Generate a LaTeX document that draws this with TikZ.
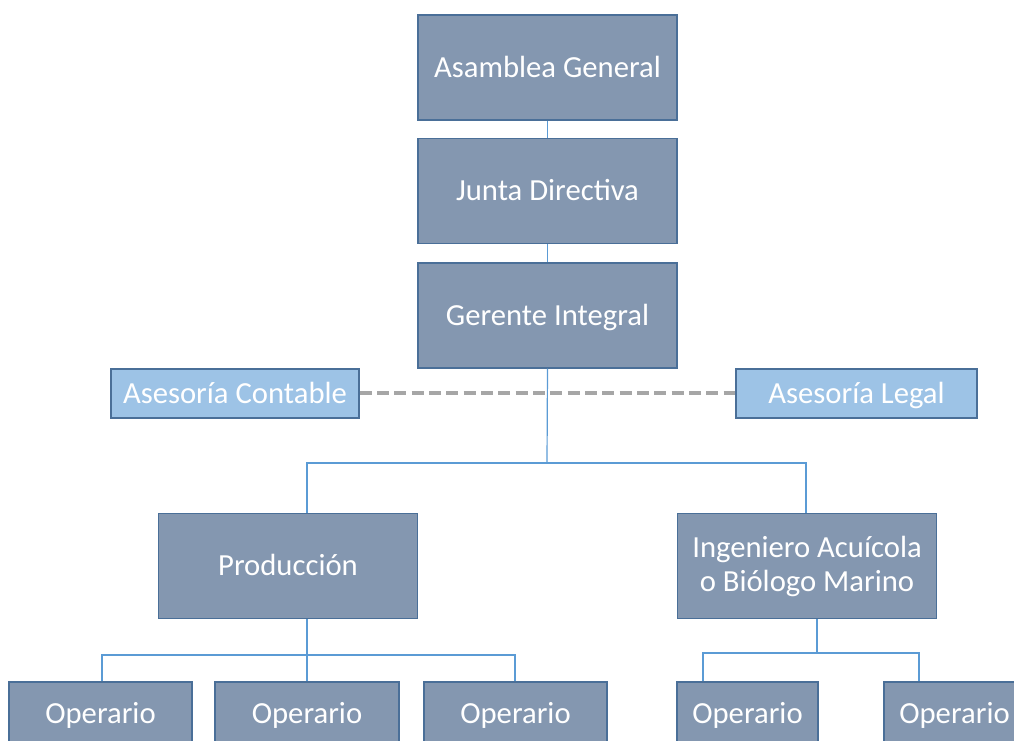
\documentclass[tikz,border=0pt]{standalone}
\usepackage{fontspec}
\setmainfont{Carlito}
\usepackage{tikz}

\definecolor{cargofill}{HTML}{8497B0}
\definecolor{cargoline}{HTML}{4A6F98}
\definecolor{asesorfill}{HTML}{9DC3E6}
\definecolor{enlace}{HTML}{5B9BD5}
\definecolor{punteo}{HTML}{A6A6A6}

\tikzset{
  cargo/.style={draw=cargoline, fill=cargofill, line width=1.1pt, text=white,
    inner sep=0pt, align=center, font=\fontsize{23}{25.5}\selectfont},
  grande/.style={cargo, minimum width=194.25pt, minimum height=78.75pt},
  unalinea/.style={text height=16pt, text depth=1.2pt},
  asesor/.style={cargo, unalinea, fill=asesorfill, minimum height=36.75pt},
  operario/.style={cargo, unalinea, minimum width=137.25pt, minimum height=48pt},
  linea/.style={draw=enlace, line width=0.9pt}
}

\begin{document}
\begin{tikzpicture}[x=0.75pt, y=-0.75pt]
			% frame of the picture
			\useasboundingbox (0,0) rectangle (1014,741);
			\clip (0,0) rectangle (1014,741);

			% top of the chart
			\node[grande, unalinea] (asamblea) at (547.5,67.5) {Asamblea General};
			\node[grande, unalinea] (junta) at (547.5,191) {Junta Directiva};
			\node[grande, unalinea] (gerente) at (547.5,315.5) {Gerente Integral};
			\draw[linea] (asamblea.south) -- (junta.north);
			\draw[linea] (junta.south) -- (gerente.north);

			% the two advisers
			\node[asesor, minimum width=186pt] (contable) at (235,393.5) {Asesoría Contable};
			\node[asesor, minimum width=180.75pt] (legal) at (856.5,393.5) {Asesoría Legal};

			% second level
			\node[grande, unalinea] (produccion) at (288,566) {Producción};
			\node[grande] (ingeniero) at (807,566) {Ingeniero Acuícola\\o Biólogo Marino};

			% branch points
			\coordinate (g) at (547,463);
			\coordinate (gl) at (307,463);
			\coordinate (gr) at (806,463);
			\draw[linea] (gerente.south) -- (g);
			\draw[linea] (gl |- produccion.north) -- (gl) -- (gr) -- (gr |- ingeniero.north);

			% dashed link to the advisers
			\draw[punteo, line width=3pt, dash pattern=on 9pt off 4pt] (contable.east) -- (legal.west);

			% operarios
			\node[operario] (op1) at (100.5,714) {Operario};
			\node[operario, minimum width=138pt] (op2) at (307,714) {Operario};
			\node[operario] (op3) at (515.5,714) {Operario};
			\node[operario, minimum width=105.75pt] (op4) at (747.5,714) {Operario};
			\node[operario, minimum width=105.75pt] (op5) at (954.5,714) {Operario};

			% lines under Produccion
			\coordinate (p) at (307,655);
			\coordinate (pl) at (102,655);
			\coordinate (pr) at (515,655);
			\draw[linea] (p |- produccion.south) -- (op2.north);
			\draw[linea] (pl |- op1.north) -- (pl) -- (pr) -- (pr |- op3.north);

			% lines under Ingeniero
			\coordinate (i) at (817,653);
			\coordinate (il) at (703,653);
			\coordinate (ir) at (919,653);
			\draw[linea] (i |- ingeniero.south) -- (i);
			\draw[linea] (il |- op4.north) -- (il) -- (ir) -- (ir |- op5.north);
\end{tikzpicture}
\end{document}
